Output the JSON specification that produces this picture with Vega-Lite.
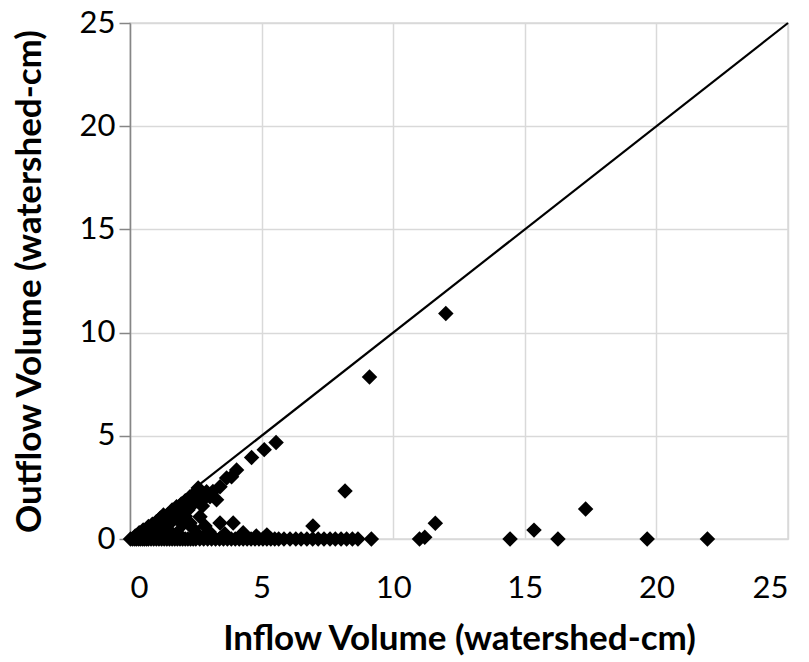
{
  "$schema": "https://vega.github.io/schema/vega-lite/v6.json",
  "width": 658,
  "height": 516,
  "autosize": "none",
  "padding": {"left": 130, "top": 23, "right": 21, "bottom": 123},
  "background": "white",
  "datasets": {
    "diag": [{"x": 0, "y": 0}, {"x": 25, "y": 25}],
    "points": [
      {"x": 0.2, "y": 0.15}, {"x": 0.35, "y": 0.3}, {"x": 0.5, "y": 0.44}, {"x": 0.7, "y": 0.6}, {"x": 0.85, "y": 0.72},
      {"x": 1.0, "y": 0.84}, {"x": 1.15, "y": 1.0}, {"x": 1.27, "y": 1.16}, {"x": 1.45, "y": 1.2}, {"x": 1.6, "y": 1.4},
      {"x": 1.77, "y": 1.56}, {"x": 1.95, "y": 1.7}, {"x": 2.1, "y": 1.85}, {"x": 2.28, "y": 2.05}, {"x": 2.45, "y": 2.2},
      {"x": 2.59, "y": 2.47}, {"x": 2.7, "y": 1.8}, {"x": 2.91, "y": 2.29}, {"x": 3.04, "y": 2.05}, {"x": 3.15, "y": 2.3},
      {"x": 3.29, "y": 1.9}, {"x": 3.42, "y": 2.53}, {"x": 3.67, "y": 2.95}, {"x": 3.86, "y": 3.02}, {"x": 4.05, "y": 3.34},
      {"x": 4.62, "y": 3.95}, {"x": 5.1, "y": 4.33}, {"x": 5.55, "y": 4.68}, {"x": 9.1, "y": 7.85}, {"x": 12.0, "y": 10.93},
      {"x": 0.6, "y": 0.3}, {"x": 0.9, "y": 0.45}, {"x": 1.2, "y": 0.6}, {"x": 1.4, "y": 0.85}, {"x": 1.64, "y": 0.92},
      {"x": 1.9, "y": 1.2}, {"x": 2.0, "y": 0.7}, {"x": 2.2, "y": 1.4}, {"x": 2.28, "y": 0.77}, {"x": 2.66, "y": 1.08},
      {"x": 2.85, "y": 0.63}, {"x": 3.42, "y": 0.77}, {"x": 3.92, "y": 0.77}, {"x": 1.5, "y": 0.4}, {"x": 2.4, "y": 0.5},
      {"x": 1.1, "y": 0.25}, {"x": 1.8, "y": 0.3}, {"x": 3.0, "y": 0.35}, {"x": 4.3, "y": 0.3}, {"x": 3.6, "y": 0.25},
      {"x": 2.6, "y": 0.2}, {"x": 4.8, "y": 0.15}, {"x": 5.2, "y": 0.2},
      {"x": 2.0, "y": 1.5}, {"x": 2.4, "y": 1.7}, {"x": 2.5, "y": 1.9}, {"x": 2.8, "y": 2.0}, {"x": 2.75, "y": 1.6},
      {"x": 1.7, "y": 1.0}, {"x": 2.1, "y": 1.1}, {"x": 1.3, "y": 0.9}, {"x": 0.8, "y": 0.5}, {"x": 0.4, "y": 0.2}, {"x": 1.0, "y": 0.6},
      {"x": 6.95, "y": 0.63}, {"x": 8.17, "y": 2.33}, {"x": 11.6, "y": 0.76}, {"x": 15.35, "y": 0.43}, {"x": 17.31, "y": 1.45},
      {"x": 11.2, "y": 0.08},
      {"x": 0.02, "y": 0}, {"x": 0.1, "y": 0}, {"x": 0.18, "y": 0}, {"x": 0.25, "y": 0}, {"x": 0.33, "y": 0},
      {"x": 0.4, "y": 0}, {"x": 0.48, "y": 0}, {"x": 0.55, "y": 0}, {"x": 0.63, "y": 0}, {"x": 0.7, "y": 0},
      {"x": 0.8, "y": 0}, {"x": 0.9, "y": 0}, {"x": 1.0, "y": 0}, {"x": 1.1, "y": 0}, {"x": 1.2, "y": 0},
      {"x": 1.3, "y": 0}, {"x": 1.4, "y": 0}, {"x": 1.5, "y": 0}, {"x": 1.6, "y": 0}, {"x": 1.7, "y": 0},
      {"x": 1.8, "y": 0}, {"x": 1.9, "y": 0}, {"x": 2.0, "y": 0}, {"x": 2.1, "y": 0}, {"x": 2.2, "y": 0},
      {"x": 2.3, "y": 0}, {"x": 2.4, "y": 0}, {"x": 2.5, "y": 0}, {"x": 2.65, "y": 0}, {"x": 2.8, "y": 0},
      {"x": 2.95, "y": 0}, {"x": 3.1, "y": 0}, {"x": 3.25, "y": 0}, {"x": 3.4, "y": 0}, {"x": 3.55, "y": 0},
      {"x": 3.7, "y": 0}, {"x": 3.85, "y": 0}, {"x": 4.0, "y": 0}, {"x": 4.15, "y": 0}, {"x": 4.3, "y": 0},
      {"x": 4.45, "y": 0}, {"x": 4.6, "y": 0}, {"x": 4.75, "y": 0}, {"x": 4.9, "y": 0}, {"x": 5.05, "y": 0},
      {"x": 5.2, "y": 0}, {"x": 5.35, "y": 0}, {"x": 5.5, "y": 0}, {"x": 5.65, "y": 0}, {"x": 5.85, "y": 0},
      {"x": 6.08, "y": 0}, {"x": 6.3, "y": 0}, {"x": 6.5, "y": 0}, {"x": 6.72, "y": 0}, {"x": 6.94, "y": 0},
      {"x": 7.15, "y": 0}, {"x": 7.37, "y": 0}, {"x": 7.6, "y": 0}, {"x": 7.8, "y": 0}, {"x": 8.02, "y": 0},
      {"x": 8.23, "y": 0}, {"x": 8.45, "y": 0}, {"x": 8.66, "y": 0}, {"x": 9.17, "y": 0}, {"x": 11.0, "y": 0},
      {"x": 14.44, "y": 0}, {"x": 16.26, "y": 0}, {"x": 19.65, "y": 0}, {"x": 21.94, "y": 0}
    ]
  },
  "encoding": {
    "x": {"field": "x", "type": "quantitative", "scale": {"domain": [0, 25], "nice": false, "zero": true},
      "axis": {"title": "Inflow Volume (watershed-cm)", "values": [0, 5, 10, 15, 20, 25], "domain": false, "ticks": true, "tickColor": "transparent", "tickSize": 28, "labelPadding": 6, "titlePadding": 18}},
    "y": {"field": "y", "type": "quantitative", "scale": {"domain": [0, 25], "nice": false},
      "axis": {"title": "Outflow Volume (watershed-cm)", "values": [0, 5, 10, 15, 20, 25], "domain": true, "domainColor": "#868686", "domainWidth": 1.5, "ticks": true, "tickColor": "#868686", "tickWidth": 1.5, "tickSize": 11, "labelPadding": 4, "titlePadding": 32}}
  },
  "layer": [
    {
      "data": {"name": "points"},
      "mark": {"type": "point", "shape": "diamond", "filled": true, "color": "black", "opacity": 1, "size": 240, "clip": false}
    },
    {
      "data": {"name": "diag"},
      "mark": {"type": "line", "color": "black", "strokeWidth": 2.2}
    }
  ],
  "config": {
    "view": {"stroke": "#d9d9d9", "strokeWidth": 1.5},
    "axis": {
      "labelFont": "Lato", "titleFont": "Lato", "labelFontSize": 31, "titleFontSize": 35,
      "labelColor": "black", "titleColor": "black", "titleFontWeight": "bold",
      "gridColor": "#d9d9d9", "gridWidth": 1.5
    }
  }
}
